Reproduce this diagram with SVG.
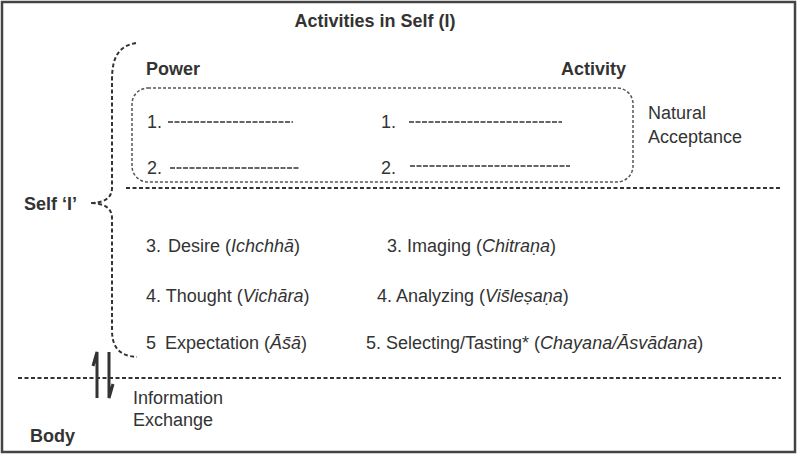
<svg xmlns="http://www.w3.org/2000/svg" width="800" height="456" viewBox="0 0 800 456">
<style>
text{font-family:"Liberation Sans",Arial,sans-serif;fill:#333;font-size:18px}
.b{font-weight:bold;font-size:18px}
.i{font-style:italic}
.dash{fill:none;stroke:#333;stroke-width:2;stroke-dasharray:4 2.5}
.fine{fill:none;stroke:#555;stroke-width:1.5;stroke-dasharray:3 2}
.blank{stroke:#333;stroke-width:1.3;stroke-dasharray:5 1.5}
</style>
<rect x="2" y="2" width="793" height="450" fill="#fff" stroke="#444" stroke-width="2.5"/>
<g id="title"><text class="b" x="375" y="27" text-anchor="middle">Activities in Self (I)</text></g>
<g id="self-brace">
<path class="dash" d="M136,43 C118,46 112,58 112,80 L112,188 C112,198 104,203 90,203 C104,203 112,208 112,218 L112,330 C112,348 120,356 137,357"/>
<text class="b" x="24" y="210">Self ‘I’</text>
</g>
<g id="headers">
<text class="b" x="146" y="75">Power</text>
<text class="b" x="561" y="75">Activity</text>
</g>
<g id="natural-acceptance">
<rect class="fine" x="132" y="88" width="501" height="94" rx="16"/>
<text x="147" y="128">1.</text>
<line class="blank" x1="168" y1="122" x2="293" y2="122"/>
<text x="381" y="128">1.</text>
<line class="blank" x1="409" y1="122" x2="562" y2="122"/>
<text x="147" y="174">2.</text>
<line class="blank" x1="170" y1="168" x2="300" y2="168"/>
<text x="381" y="174">2.</text>
<line class="blank" x1="410" y1="166" x2="570" y2="166"/>
<text x="648" y="119">Natural</text>
<text x="648" y="143">Acceptance</text>
</g>
<g id="dividers">
<line class="dash" x1="126" y1="188" x2="781" y2="188"/>
<line class="dash" x1="18" y1="378" x2="781" y2="378"/>
</g>
<g id="powers">
<text x="146" y="252">3.<tspan x="168">Desire (</tspan><tspan class="i">Ichchhā</tspan>)</text>
<text x="146" y="302">4. Thought (<tspan class="i">Vichāra</tspan>)</text>
<text x="146" y="349">5<tspan x="165">Expectation (</tspan><tspan class="i">Ās̄ā</tspan>)</text>
</g>
<g id="activities">
<text x="387" y="252">3. Imaging (<tspan class="i">Chitraṇa</tspan>)</text>
<text x="377" y="302">4. Analyzing (<tspan class="i">Vis̄leṣaṇa</tspan>)</text>
<text x="366" y="349">5. Selecting/Tasting* (<tspan class="i">Chayana/Āsvādana</tspan>)</text>
</g>
<g id="connectors">
<path d="M97,398 L97,352 L93,366" fill="none" stroke="#333" stroke-width="3" stroke-linejoin="miter"/>
<path d="M109,352 L109,398 L113,384" fill="none" stroke="#333" stroke-width="3" stroke-linejoin="miter"/>
</g>
<g id="body">
<text x="133" y="404">Information</text>
<text x="133" y="426">Exchange</text>
<text class="b" x="30" y="442">Body</text>
</g>
</svg>
